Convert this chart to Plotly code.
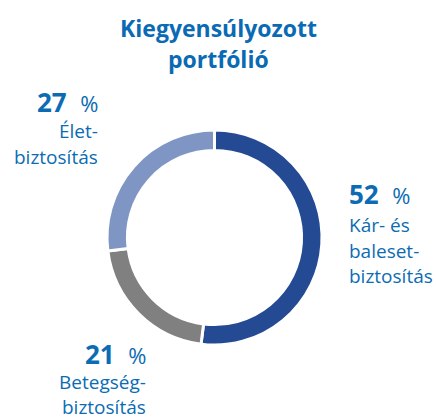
import plotly.graph_objects as go

W, H = 436, 420
categories = ["Kár- és baleset-biztosítás", "Betegségbiztosítás", "Életbiztosítás"]
values = [52, 21, 27]
colors = ["#244a94", "#808080", "#7f96c4"]
title_lines = ["Kiegyensúlyozott", "portfólió"]
label_lines = [["Kár- és", "baleset-", "biztosítás"], ["Betegség-", "biztosítás"], ["Élet-", "biztosítás"]]

TXT = "#0b6cb3"
FONT = "Open Sans"

def px(x):
    return x / W

def py(y):
    return 1 - y / H

fig = go.Figure(go.Pie(
    values=values, labels=categories, hole=0.81, sort=False, direction="clockwise",
    rotation=0, marker=dict(colors=colors, line=dict(color="white", width=3)),
    textinfo="none", hoverinfo="label+percent", showlegend=False,
    domain=dict(x=[px(107), px(322)], y=[py(345), py(130)]),
))

ann = []
for i, t in enumerate(title_lines):
    ann.append(dict(x=px(218), y=py(28 + i * 31), text=f"<b>{t}</b>", showarrow=False,
                    xanchor="center", yanchor="middle", font=dict(size=23, color="#0a6ab4", family=FONT)))

# label blocks: (x anchor px, anchor side, number line y, first text line y, spacing)
blocks = [(347, "left", 194, 225, 25.5), (148, "right", 354, 382, 24.5), (100, "right", 102, 131, 26)]
for (x0, side, yn, yt, sp), v, lines in zip(blocks, values, label_lines):
    ann.append(dict(x=px(x0), y=py(yn), text=f"<b>{v}</b>  <span style='font-size:22px'>%</span>",
                    showarrow=False, xanchor=side, yanchor="middle", align=side, height=26,
                    font=dict(size=26, color=TXT, family=FONT)))
    for j, ln in enumerate(lines):
        ann.append(dict(x=px(x0), y=py(yt + j * sp), text=ln, showarrow=False,
                        xanchor=side, yanchor="middle", align=side, height=22,
                        font=dict(size=19, color=TXT, family=FONT)))

fig.update_layout(width=W, height=H, margin=dict(l=0, r=0, t=0, b=0),
                  paper_bgcolor="white", plot_bgcolor="white", annotations=ann)
fig.write_html("out.html", post_script="document.body.style.margin='0';",
               config={"displayModeBar": False})
